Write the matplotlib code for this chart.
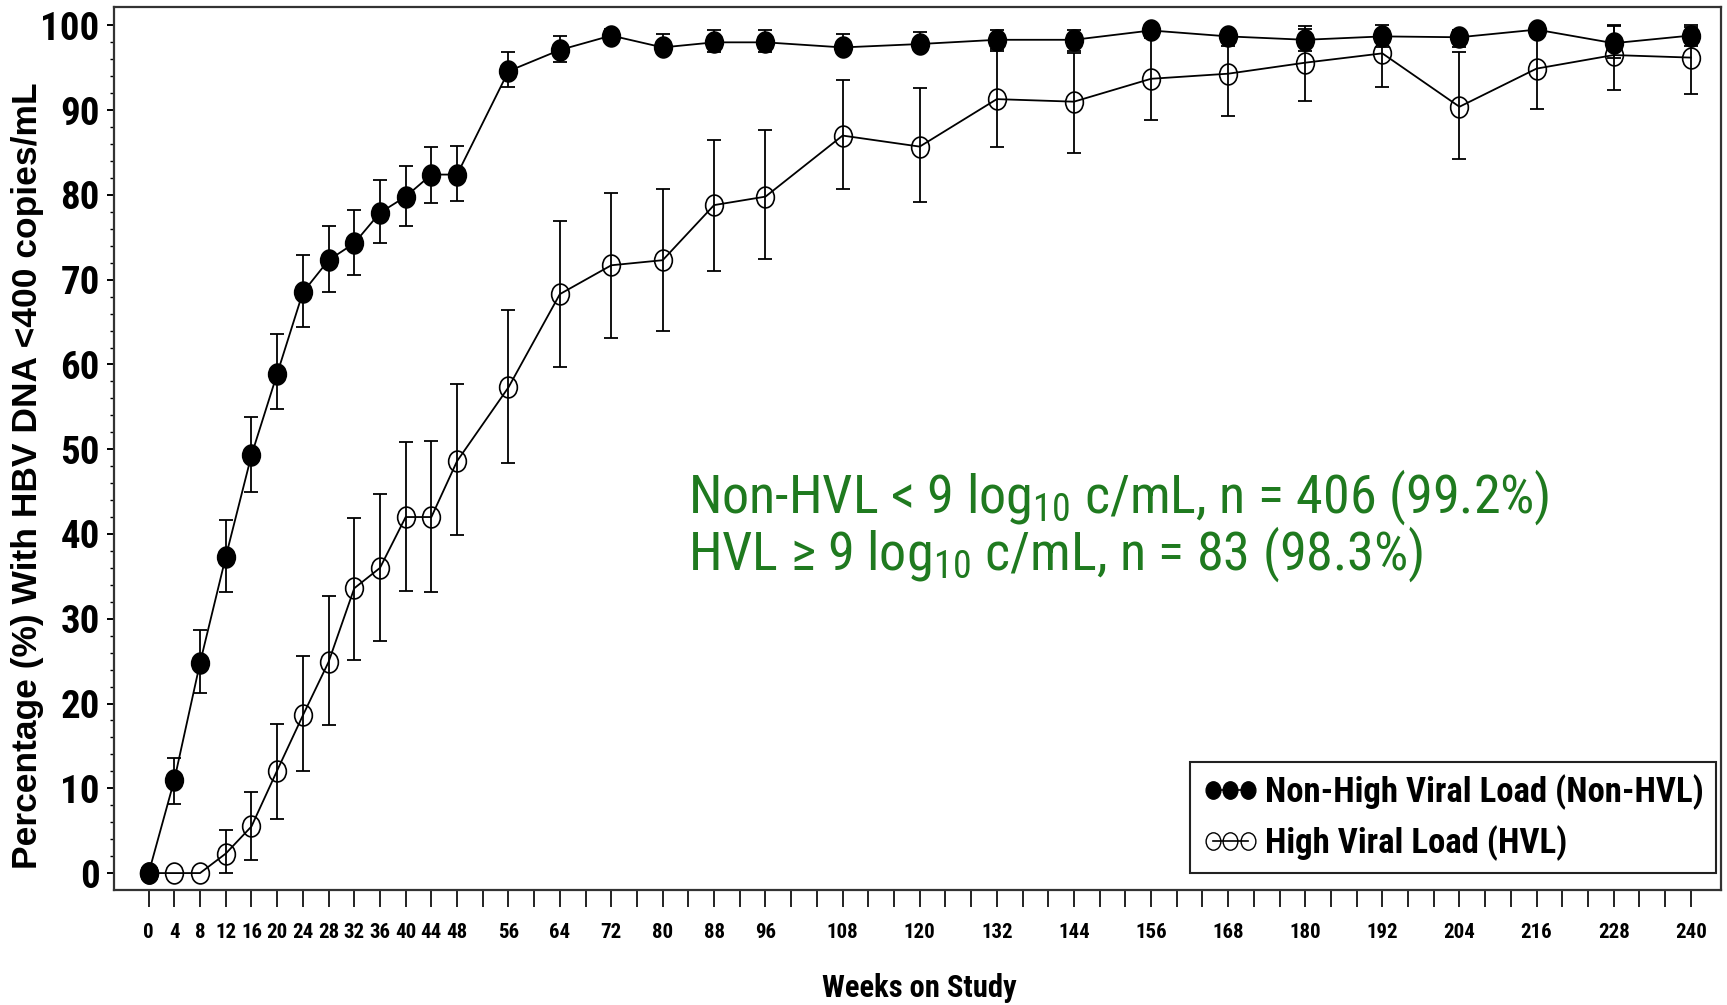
import matplotlib
matplotlib.use("Agg")
import matplotlib.pyplot as plt
import numpy as np
from matplotlib import font_manager as fm
from matplotlib.path import Path
from matplotlib.transforms import Affine2D
from matplotlib.lines import Line2D

# weeks on study
weeks = [0, 4, 8, 12, 16, 20, 24, 28, 32, 36, 40, 44, 48, 56, 64, 72, 80, 88, 96,
         108, 120, 132, 144, 156, 168, 180, 192, 204, 216, 228, 240]

# Non-HVL: percentage and 95% CI
nonhvl = [0, 11.0, 24.8, 37.3, 49.3, 58.9, 68.5, 72.3, 74.3, 77.9, 79.8, 82.4, 82.4,
          94.6, 97.1, 98.8, 97.4, 98.0, 98.0, 97.4, 97.8, 98.3, 98.3, 99.4, 98.7,
          98.3, 98.7, 98.6, 99.5, 97.9, 98.8]
nonhvl_lo = [0, 8.2, 21.2, 33.1, 45.0, 54.8, 64.4, 68.6, 70.5, 74.3, 76.3, 79.1, 79.3,
             92.7, 95.7, 98.0, 96.8, 96.9, 96.9, 96.8, 97.1, 97.0, 97.0, 98.5, 97.6,
             97.0, 97.5, 97.5, 98.6, 96.2, 97.6]
nonhvl_hi = [0, 13.6, 28.7, 41.6, 53.8, 63.6, 72.9, 76.3, 78.2, 81.8, 83.4, 85.7, 85.8,
             96.9, 98.8, 99.6, 99.0, 99.4, 99.4, 99.0, 99.2, 99.5, 99.5, 100.0, 99.5,
             99.9, 100.1, 99.5, 100.0, 100.1, 100.1]

# HVL: percentage and 95% CI
hvl = [0, 0, 0, 2.3, 5.5, 12.1, 18.6, 24.9, 33.6, 36.0, 42.0, 42.0, 48.6, 57.3, 68.3,
       71.7, 72.3, 78.8, 79.8, 87.0, 85.7, 91.3, 91.0, 93.7, 94.3, 95.6, 96.7, 90.4,
       94.9, 96.5, 96.2]
hvl_lo = [0, 0, 0, 0, 1.6, 6.4, 12.0, 17.5, 25.1, 27.4, 33.3, 33.2, 39.9, 48.4, 59.7,
          63.1, 64.0, 71.0, 72.4, 80.7, 79.2, 85.6, 85.0, 88.8, 89.3, 91.1, 92.7, 84.2,
          90.1, 92.4, 91.9]
hvl_hi = [0, 0, 0, 5.1, 9.6, 17.6, 25.6, 32.7, 41.9, 44.7, 50.9, 51.0, 57.7, 66.4, 76.9,
          80.2, 80.7, 86.5, 87.6, 93.5, 92.6, 97.2, 96.7, 98.6, 99.0, 99.6, 99.4, 96.9,
          99.6, 99.9, 99.8]

label_weeks = weeks
legend_labels = ["Non-High Viral Load (Non-HVL)", "High Viral Load (HVL)"]
note_lines = [r"Non-HVL < 9 log$_{10}$ c/mL, n = 406 (99.2%)",
              r"HVL ≥ 9 log$_{10}$ c/mL, n = 83 (98.3%)"]

GREEN = "#1f7a1f"


def pick_narrow():
    """First narrow family that has a static bold face, else None."""
    cands = ["Liberation Sans Narrow", "Roboto Condensed", "IBM Plex Sans Condensed",
             "PT Sans Narrow", "Fira Sans Condensed", "Barlow Semi Condensed",
             "Asap Condensed", "Cabin Condensed"]
    have = {}
    for f in fm.fontManager.ttflist:
        if f.style == "normal":
            have.setdefault(f.name, set()).add(f.weight)
    for c in cands:
        w = have.get(c, set())
        if (700 in w or "bold" in w) and (400 in w or "normal" in w or "regular" in w):
            return c
    return None


narrow = pick_narrow()
if narrow:
    NARROW = [narrow, "DejaVu Sans"]
    STRETCH = "normal"
else:
    NARROW = ["DejaVu Sans"]
    STRETCH = "condensed"

plt.rcParams["font.family"] = NARROW
plt.rcParams["font.stretch"] = STRETCH
plt.rcParams["mathtext.fontset"] = "custom"
plt.rcParams["mathtext.rm"] = NARROW[0]
plt.rcParams["mathtext.it"] = NARROW[0]

# slightly tall ellipse marker
ellipse = Path.unit_circle().transformed(Affine2D().scale(0.85, 1.0))

fig = plt.figure(figsize=(17.27, 10.05), dpi=100)
ax = fig.add_axes([0.0658, 0.1144, 0.9307, 0.8789])


def draw_series(x, y, lo, hi, filled, z):
    x = np.array(x)
    y = np.array(y)
    lo = np.array(lo)
    hi = np.array(hi)
    m = hi > lo  # no bars where CI is empty (weeks 0-8)
    ax.errorbar(x[m], y[m], yerr=[y[m] - lo[m], hi[m] - y[m]], fmt="none",
                ecolor="black", elinewidth=1.3, capsize=5.2, capthick=1.3, zorder=z)
    face = "black" if filled else "none"
    ax.plot(x, y, color="black", lw=1.3, marker=ellipse, markersize=15,
            markerfacecolor=face, markeredgecolor="black", markeredgewidth=1.2,
            zorder=z + 1)


draw_series(weeks, hvl, hvl_lo, hvl_hi, False, 2)
draw_series(weeks, nonhvl, nonhvl_lo, nonhvl_hi, True, 4)

ax.set_xlim(-5.45, 244.7)
ax.set_ylim(-2.0, 102.2)

# x ticks every 4 weeks, labels only at study visits shown
xt = list(range(0, 241, 4))
ax.set_xticks(xt)
ax.set_xticklabels([str(w) if w in label_weeks else "" for w in xt],
                   fontsize=15, fontweight="bold")
ax.tick_params(axis="x", direction="out", length=12, width=1.4, pad=12, color="#222222")

ax.set_yticks(range(0, 101, 10))
ax.set_yticks(range(0, 101, 2), minor=True)
ax.set_yticklabels([str(v) for v in range(0, 101, 10)], fontsize=28, fontweight="bold")
ax.tick_params(axis="y", which="major", direction="out", length=5, width=1.4, pad=5)
ax.tick_params(axis="y", which="minor", direction="out", length=3, width=1.0)

for s in ax.spines.values():
    s.set_color("#333333")
    s.set_linewidth(1.6)

fig.text(27.5 / 1727, 1 - 476 / 1005, "Percentage (%) With HBV DNA <400 copies/mL",
         rotation=90, ha="center", va="center", fontsize=25.5, fontweight="bold",
         family=["Liberation Sans", "DejaVu Sans"], stretch="normal")
fig.text(919.7 / 1727, 1 - 988 / 1005, "Weeks on Study", ha="center", va="center",
         fontsize=22, fontweight="bold")

fig.text(688 / 1727, 1 - 513 / 1005, note_lines[0],
         ha="left", va="baseline", fontsize=39, color=GREEN)
fig.text(688 / 1727, 1 - 570 / 1005, note_lines[1],
         ha="left", va="baseline", fontsize=39, color=GREEN)

handles = [
    Line2D([], [], color="black", lw=1.2, marker=ellipse, markersize=12.5,
           markerfacecolor="black", markeredgecolor="black"),
    Line2D([], [], color="black", lw=1.2, marker=ellipse, markersize=12.5,
           markerfacecolor="none", markeredgecolor="black", markeredgewidth=1.0),
]
leg = ax.legend(handles, legend_labels, loc="lower right",
                bbox_to_anchor=(0.9969, 0.0188), borderaxespad=0,
                numpoints=3, handlelength=1.6, handletextpad=0.2, labelspacing=0.45,
                borderpad=0.35, fancybox=False, framealpha=1,
                prop={"family": NARROW, "weight": "bold", "size": 25, "stretch": STRETCH})
leg.get_frame().set_edgecolor("#222222")
leg.get_frame().set_linewidth(1.5)

fig.savefig("out.png", dpi=100)
